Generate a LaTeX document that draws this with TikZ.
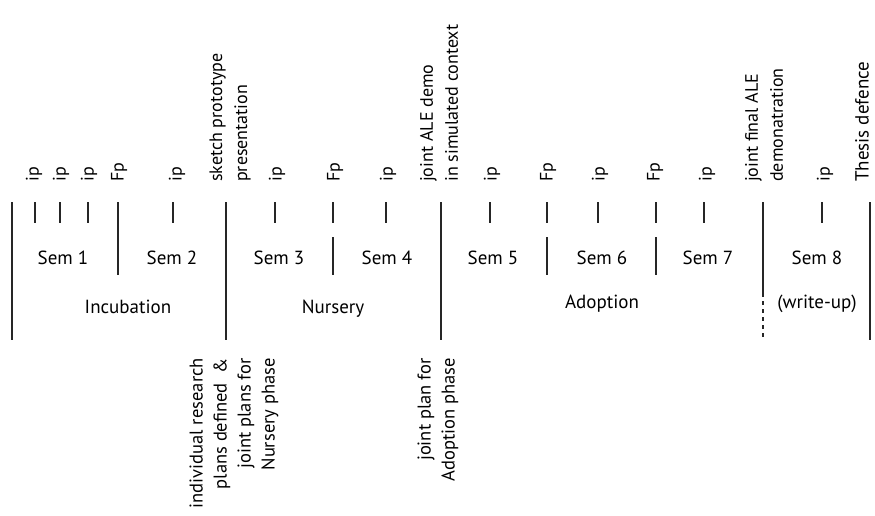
\documentclass[tikz,border=0pt]{standalone}
\usepackage{fontspec}
\setmainfont{PT Sans}
\begin{document}
\begin{tikzpicture}[x=1pt,y=-1pt,
  major/.style={line width=1.4pt,black!85},
  tickline/.style={line width=1.1pt,black!85},
  toplab/.style={rotate=90,anchor=west,inner sep=0pt,align=left,font=\fontsize{18}{25}\selectfont},
  botlab/.style={rotate=90,anchor=east,inner sep=0pt,align=right,font=\fontsize{18.5}{24}\selectfont},
  hlab/.style={anchor=base,inner sep=0pt,font=\fontsize{19}{22}\selectfont}]
\useasboundingbox (0,0) rectangle (875,515);
% major lines
\coordinate (m1t) at (12,202);  \coordinate (m1b) at (12,340);
\coordinate (m2t) at (226,202); \coordinate (m2b) at (226,340);
\coordinate (m3t) at (441,202); \coordinate (m3b) at (441,340);
\coordinate (m4t) at (763,202); \coordinate (m4m) at (763,293); \coordinate (m4b) at (763,340);
\coordinate (m5t) at (870,202); \coordinate (m5b) at (870,340);
\draw[major] (m1t) -- (m1b);
\draw[major] (m2t) -- (m2b);
\draw[major] (m3t) -- (m3b);
\draw[major] (m4t) -- (m4m);
\draw[major,dash pattern=on 4pt off 4pt] (m4m) -- (m4b);
\draw[major] (m5t) -- (m5b);
% semester dividers
\coordinate (d1t) at (118,202); \coordinate (d1b) at (118,275);
\draw[tickline] (d1t) -- (d1b);
\foreach \x/\n in {333/d2,547/d3,656/d4}{
  \coordinate (\n t) at (\x,237); \coordinate (\n b) at (\x,275);
  \draw[tickline] (\n t) -- (\n b);
}
% ticks
\foreach \x/\n in {35/t1,60/t2,88/t3,173/t4,275/t5,333/t6,386/t7,490/t8,547/t9,598/t10,656/t11,704/t12,822/t13}{
  \coordinate (\n a) at (\x,202); \coordinate (\n b) at (\x,223);
  \draw[tickline] (\n a) -- (\n b);
}
% top labels
\node[toplab] (l1) at (34,182) {ip};
\node[toplab] (l2) at (61,182) {ip};
\node[toplab] (l3) at (89,182) {ip};
\node[toplab] (l4) at (119,182) {Fp};
\node[toplab] (l5) at (177,182) {ip};
\node[toplab] (l6) at (230,182) {sketch prototype\\presentation};
\node[toplab] (l7) at (277,182) {ip};
\node[toplab] (l8) at (335,182) {Fp};
\node[toplab] (l9) at (388,182) {ip};
\node[toplab] (l10) at (439,182) {joint ALE demo\\in simulated context};
\node[toplab] (l11) at (492,182) {ip};
\node[toplab] (l12) at (548,182) {Fp};
\node[toplab] (l13) at (600,182) {ip};
\node[toplab] (l14) at (655,182) {Fp};
\node[toplab] (l15) at (707,182) {ip};
\node[toplab] (l16) at (764,182) {joint final ALE\\demonatration};
\node[toplab] (l17) at (825,182) {ip};
\node[toplab,font=\fontsize{19}{25}\selectfont] (l18) at (862,182) {Thesis defence};
% semester labels
\node[hlab] (s1) at (63,264) {Sem 1};
\node[hlab] (s2) at (172,264) {Sem 2};
\node[hlab] (s3) at (279,264) {Sem 3};
\node[hlab] (s4) at (387,264) {Sem 4};
\node[hlab] (s5) at (493,264) {Sem 5};
\node[hlab] (s6) at (602,264) {Sem 6};
\node[hlab] (s7) at (708,264) {Sem 7};
\node[hlab] (s8) at (817,264) {Sem 8};
% phase labels
\node[hlab] (p1) at (128,313) {Incubation};
\node[hlab] (p2) at (333,313) {Nursery};
\node[hlab] (p3) at (602,308) {Adoption};
\node[hlab] (p4) at (817,308) {(write-up)};
% bottom labels
\node[botlab] (b1) at (234,358) {individual research\\plans defined \ \&\\joint plans for\\Nursery phase};
\node[botlab] (b2) at (438,358) {joint plan for\\Adoption phase};
\end{tikzpicture}
\end{document}
